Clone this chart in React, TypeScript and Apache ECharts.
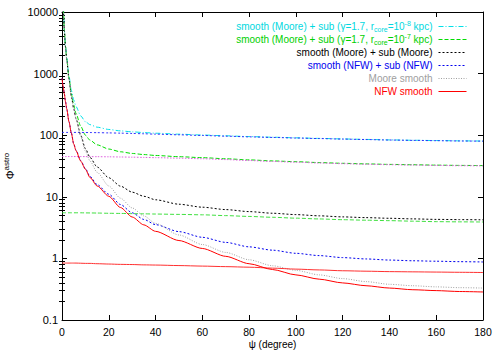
import React, { useEffect, useRef } from "react";
import * as echarts from "echarts";

// angle from the Galactic centre (degrees)
const psi = [0, 0.5, 1, 1.5, 2, 3, 4, 5, 6, 8, 10, 12, 15, 20, 25, 30, 35, 40, 50, 60, 70, 80, 90, 100, 110, 120, 130, 140, 150, 160, 170, 180];

// NFW smooth
const nfwSmooth = [840, 620, 470, 350, 270, 165, 108, 72, 56, 38, 28, 20.5, 15, 10.2, 6.7, 4.7, 3.5, 2.75, 1.95, 1.45, 1.08, 0.82, 0.66, 0.54, 0.46, 0.4, 0.36, 0.33, 0.31, 0.3, 0.29, 0.285];
// sub (NFW) only
const nfwSub = [0.84, 0.84, 0.84, 0.84, 0.84, 0.84, 0.84, 0.84, 0.84, 0.835, 0.83, 0.83, 0.82, 0.81, 0.8, 0.795, 0.785, 0.78, 0.765, 0.75, 0.735, 0.72, 0.695, 0.67, 0.65, 0.63, 0.62, 0.61, 0.605, 0.6, 0.595, 0.59];
// smooth (NFW) + sub (NFW)
const nfwTotal = [840.8, 620.8, 470.8, 350.8, 270.8, 165.8, 108.8, 72.8, 56.8, 38.8, 28.8, 21.3, 15.8, 11, 7.5, 5.5, 4.29, 3.53, 2.72, 2.2, 1.82, 1.54, 1.36, 1.21, 1.11, 1.03, 0.98, 0.94, 0.915, 0.9, 0.885, 0.875];

// Moore smooth
const mooreSmooth = [null, 17000, 5000, 2700, 1700, 800, 420, 265, 180, 95, 55, 38, 25, 15, 9.5, 6.6, 4.9, 3.7, 2.4, 1.68, 1.25, 0.95, 0.76, 0.64, 0.54, 0.47, 0.42, 0.38, 0.36, 0.345, 0.335, 0.33];
// sub (Moore) only
const mooreSub = [5.5, 5.5, 5.5, 5.5, 5.5, 5.5, 5.5, 5.5, 5.5, 5.5, 5.48, 5.47, 5.45, 5.4, 5.37, 5.33, 5.29, 5.25, 5.18, 5.1, 4.95, 4.8, 4.65, 4.5, 4.37, 4.25, 4.17, 4.1, 4.02, 3.95, 3.92, 3.9];
// smooth (Moore) + sub (Moore)
const mooreTotal = [null, 17005.5, 5005.5, 2705.5, 1705.5, 805.5, 425.5, 270.5, 185.5, 100.5, 60.5, 43.5, 30.5, 20.4, 14.9, 11.9, 10.2, 8.95, 7.58, 6.78, 6.2, 5.75, 5.41, 5.14, 4.91, 4.72, 4.59, 4.48, 4.38, 4.3, 4.26, 4.23];

// sub (gamma=1.7, r_core=1e-7 kpc) only
const core7Sub = [45, 45, 45, 45, 45, 45, 45, 45, 45, 45, 44.9, 44.9, 44.8, 44.6, 44.3, 44, 43.6, 43.2, 42.4, 41.5, 40.2, 38.8, 37.5, 36.5, 35.4, 34.5, 33.8, 33.2, 32.8, 32.3, 32, 31.8];
// smooth (Moore) + sub (gamma=1.7, r_core=1e-7 kpc)
const core7Total = [null, 17045, 5045, 2745, 1745, 845, 465, 310, 225, 140, 99.9, 82.9, 69.8, 59.6, 53.8, 50.6, 48.5, 46.9, 44.8, 43.2, 41.45, 39.75, 38.26, 37.14, 35.94, 34.97, 34.22, 33.58, 33.16, 32.65, 32.34, 32.13];

// sub (gamma=1.7, r_core=1e-8 kpc) only
const core8Sub = [111, 111, 111, 111, 111, 111, 111, 111, 111, 110.8, 110.6, 110.4, 110, 109, 108, 106.8, 105.5, 104, 101.5, 99, 96.5, 94, 92, 90, 88.2, 86.5, 85, 83.5, 82.4, 81.5, 80.6, 80];
// smooth (Moore) + sub (gamma=1.7, r_core=1e-8 kpc)
const core8Total = [null, 17111, 5111, 2811, 1811, 911, 531, 376, 291, 205.8, 165.6, 148.4, 135, 124, 117.5, 113.4, 110.4, 107.7, 103.9, 100.7, 97.75, 94.95, 92.76, 90.64, 88.74, 86.97, 85.42, 83.88, 82.76, 81.85, 80.94, 80.33];

const yMajorTicks = [0.1, 1, 10, 100, 1000, 10000];
const xMin = 0;
const xMax = 180;
const xStep = 20;

const FONT = "Liberation Sans";

const NAME_C8 = "smooth (Moore) + sub (γ=1.7, rcore=10-8 kpc)";
const NAME_C7 = "smooth (Moore) + sub (γ=1.7, rcore=10-7 kpc)";
const NAME_MS = "smooth (Moore) + sub (Moore)";
const NAME_NS = "smooth (NFW) + sub (NFW)";
const NAME_M = "Moore smooth";
const NAME_N = "NFW smooth";

const richLabels: Record<string, string> = {
  [NAME_C8]: "{n|smooth (Moore) + sub (γ=1.7, r}{sub|core}{n|=10}{sup|-8}{n| kpc)}",
  [NAME_C7]: "{n|smooth (Moore) + sub (γ=1.7, r}{sub|core}{n|=10}{sup|-7}{n| kpc)}",
};

const pairs = (ys: (number | null)[]) =>
  psi.map((x, i) => [x, ys[i]] as [number, number | null]).filter((p) => p[1] !== null);

const yMinorTicks: number[] = [];
for (let d = 0; d < yMajorTicks.length - 1; d++) {
  for (let k = 2; k <= 9; k++) yMinorTicks.push(Number((yMajorTicks[d] * k).toPrecision(6)));
}

export default function App() {
  const ref = useRef<HTMLDivElement>(null);
  useEffect(() => {
    if (!ref.current) return;
    const chart = echarts.init(ref.current, undefined, { renderer: "svg" });

    const line = (name: string, data: (number | null)[], color: string, type: any, width = 1, z = 2) => ({
      name,
      type: "line",
      data: pairs(data),
      showSymbol: false,
      symbol: "none",
      smooth: 0.25,
      smoothMonotone: "x",
      xAxisIndex: 0,
      yAxisIndex: 0,
      z,
      lineStyle: { color, width, type },
      itemStyle: { color },
      clip: true,
    });

    const logAxisBase = {
      type: "log",
      logBase: 10,
      min: 0.1,
      max: 10000,
      splitLine: { show: false },
      axisLine: { show: true, onZero: false, lineStyle: { color: "#000", width: 1 } },
    };

    const option: any = {
      animation: false,
      textStyle: { fontFamily: FONT },
      grid: { left: 62, right: 17, top: 12, bottom: 30, containLabel: false, outerBoundsMode: "none" },
      legend: {
        orient: "vertical",
        right: 28,
        top: 15,
        align: "right",
        itemWidth: 28,
        itemHeight: 8,
        itemGap: 0,
        itemStyle: { opacity: 0, borderWidth: 0 },
        lineStyle: { width: 1 },
        textStyle: {
          fontFamily: FONT,
          fontSize: 10,
          lineHeight: 13,
          padding: [0, 1, 0, 0],
          rich: {
            n: { fontSize: 10, lineHeight: 13, fontFamily: FONT },
            sub: { fontSize: 7, verticalAlign: "bottom", lineHeight: 13, fontFamily: FONT },
            sup: { fontSize: 7, verticalAlign: "top", lineHeight: 13, fontFamily: FONT },
          },
        },
        formatter: (name: string) => richLabels[name] ?? `{n|${name}}`,
        data: [
          { name: NAME_C8, textStyle: { color: "#00d8e0" } },
          { name: NAME_C7, textStyle: { color: "#00d000" } },
          { name: NAME_MS, textStyle: { color: "#000000" } },
          { name: NAME_NS, textStyle: { color: "#0000ee" } },
          { name: NAME_M, textStyle: { color: "#a0a0a0" } },
          { name: NAME_N, textStyle: { color: "#ff0000" } },
        ],
      },
      xAxis: [
        {
          type: "value",
          position: "bottom",
          min: xMin,
          max: xMax,
          interval: xStep,
          name: "ψ (degree)",
          nameLocation: "middle",
          nameGap: 19,
          nameMoveOverlap: false,
          nameTextStyle: { fontFamily: FONT, fontSize: 10, color: "#000" },
          axisLine: { show: true, onZero: false, lineStyle: { color: "#000", width: 1 } },
          axisTick: { show: true, inside: true, length: 5, lineStyle: { color: "#000" } },
          axisLabel: { color: "#000", fontSize: 10.5, fontFamily: FONT, margin: 6 },
          splitLine: { show: false },
        },
        {
          type: "value",
          position: "top",
          min: xMin,
          max: xMax,
          interval: xStep,
          axisLine: { show: true, onZero: false, lineStyle: { color: "#000", width: 1 } },
          axisTick: { show: true, inside: true, length: 5, lineStyle: { color: "#000" } },
          axisLabel: { show: false },
          splitLine: { show: false },
        },
      ],
      yAxis: [
        {
          ...logAxisBase,
          position: "left",
          name: "{phi|Φ}{sup|astro}",
          nameLocation: "middle",
          nameGap: 44,
          nameRotate: 90,
          nameMoveOverlap: false,
          nameTextStyle: {
            color: "#000",
            fontFamily: FONT,
            fontSize: 11,
            lineHeight: 16,
            rich: {
              phi: { fontSize: 11, fontFamily: FONT, color: "#000", lineHeight: 16 },
              sup: { fontSize: 8, fontFamily: FONT, color: "#000", verticalAlign: "top", lineHeight: 16 },
            },
          },
          axisTick: { show: true, inside: true, length: 5, lineStyle: { color: "#000" } },
          axisLabel: {
            color: "#000",
            fontSize: 11,
            fontFamily: FONT,
            margin: 4,
            formatter: (v: number) => String(Number(v.toPrecision(6))),
          },
        },
        {
          ...logAxisBase,
          position: "left",
          axisLine: { show: false },
          axisTick: { show: true, inside: true, length: 3, lineStyle: { color: "#000" }, customValues: yMinorTicks },
          axisLabel: { show: false },
        },
        {
          ...logAxisBase,
          position: "right",
          axisTick: { show: true, inside: true, length: 5, lineStyle: { color: "#000" } },
          axisLabel: { show: false },
        },
        {
          ...logAxisBase,
          position: "right",
          axisLine: { show: false },
          axisTick: { show: true, inside: true, length: 3, lineStyle: { color: "#000" }, customValues: yMinorTicks },
          axisLabel: { show: false },
        },
      ],
      series: [
        line(NAME_C8, core8Total, "#00e0e8", [5, 2, 1, 2]),
        line("sub (γ=1.7, rcore=10-8 kpc)", core8Sub, "#3030ff", [2, 2]),
        line(NAME_C7, core7Total, "#00dd00", [4, 2]),
        line("sub (γ=1.7, rcore=10-7 kpc)", core7Sub, "#e060e0", [1.5, 1.5]),
        line(NAME_MS, mooreTotal, "#000000", [2, 2]),
        line("sub (Moore)", mooreSub, "#40e040", [4, 2]),
        line(NAME_NS, nfwTotal, "#0000ee", [2, 2]),
        line(NAME_M, mooreSmooth, "#a0a0a0", [1, 1.5]),
        line("sub (NFW)", nfwSub, "#ff3030", "solid"),
        line(NAME_N, nfwSmooth, "#ff0000", "solid"),
      ],
    };

    chart.setOption(option);
    return () => chart.dispose();
  }, []);

  return (
    <div
      ref={ref}
      style={{ position: "fixed", left: 0, top: 0, width: 500, height: 350, background: "#fff" }}
    />
  );
}
